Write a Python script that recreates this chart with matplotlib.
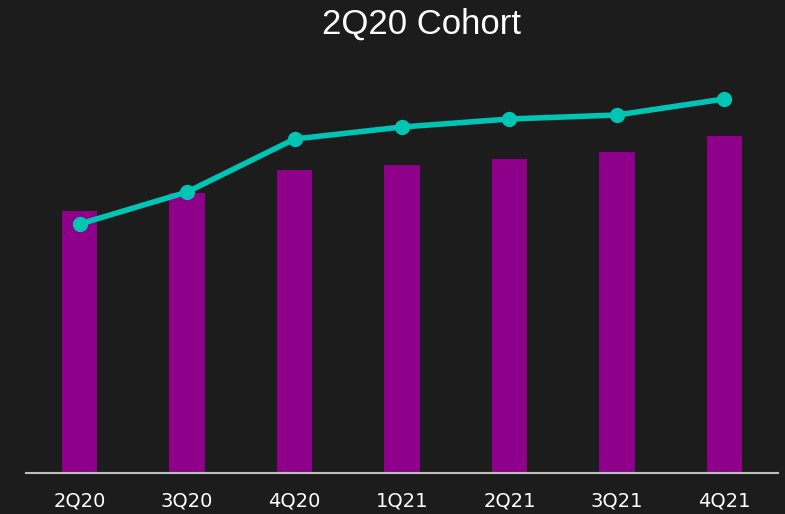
import matplotlib
matplotlib.use("Agg")
import matplotlib.pyplot as plt

quarters = ["2Q20", "3Q20", "4Q20", "1Q21", "2Q21", "3Q21", "4Q21"]
bar_values = [262, 280, 303, 308, 314, 321, 337]
line_values = [249, 281, 334, 346, 354, 358, 374]

BG = "#1c1c1c"
BAR = "#8f008a"
LINE = "#00c4b4"

fig = plt.figure(figsize=(7.85, 5.14), dpi=100, facecolor=BG)
ax = fig.add_axes([26 / 785, 41 / 514, 752 / 785, 413 / 514], facecolor=BG)

x = range(len(quarters))
ax.bar(x, bar_values, width=0.33, color=BAR, zorder=2)
ax.plot(x, line_values, color=LINE, linewidth=4, marker="o", markersize=10,
        solid_capstyle="round", zorder=3)

ax.set_xlim(-0.5, 6.5)
ax.set_ylim(0, 413)
ax.set_xticks(list(x))
ax.set_xticklabels(quarters, fontsize=14, color="white", family="DejaVu Sans")
ax.tick_params(axis="x", length=0, pad=13)
ax.set_yticks([])
for side in ["left", "right", "top"]:
    ax.spines[side].set_visible(False)
ax.spines["bottom"].set_color("#bfbfbf")
ax.spines["bottom"].set_linewidth(1.5)

fig.text(421 / 785, 1 - 24 / 514, "2Q20 Cohort", ha="center", va="center",
         fontsize=25, color="white", family="Liberation Sans")

fig.savefig("out.png", dpi=100, facecolor=BG)
